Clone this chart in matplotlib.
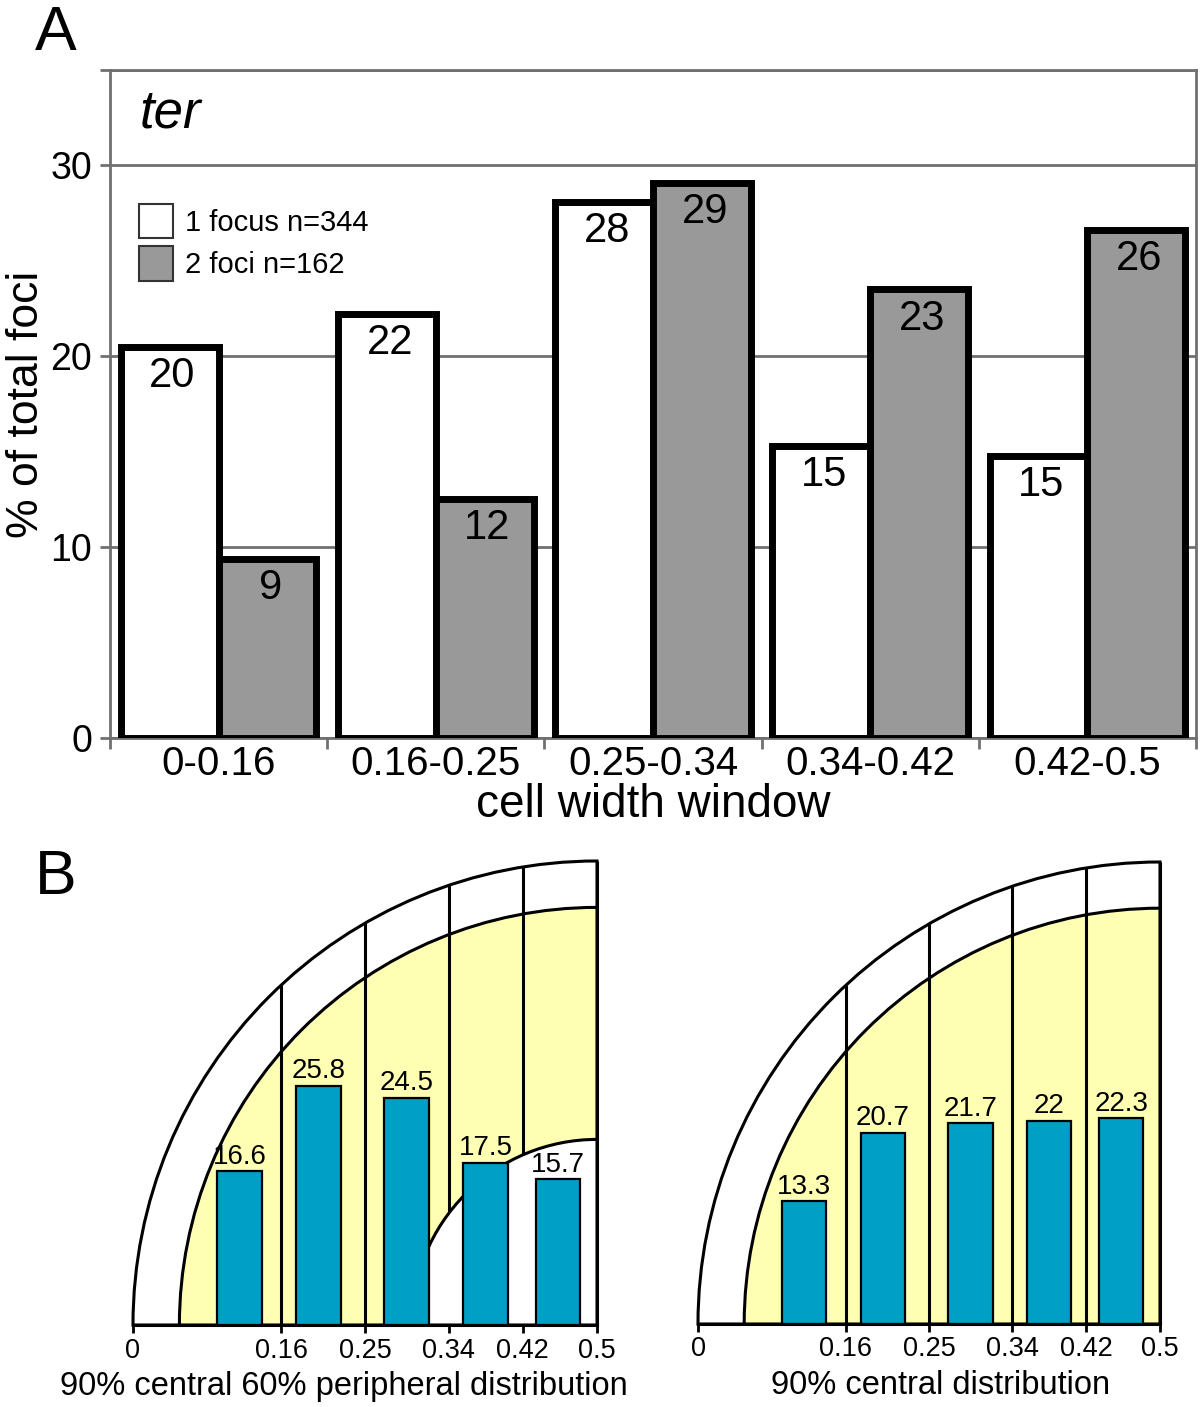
import numpy as np
import matplotlib

matplotlib.use("Agg")
import matplotlib.pyplot as plt
from matplotlib.patches import Patch, Wedge

plt.rcParams["font.family"] = ["Liberation Sans", "DejaVu Sans"]

# ---- Panel A data ------------------------------------------------------ #
windows = ["0-0.16", "0.16-0.25", "0.25-0.34", "0.34-0.42", "0.42-0.5"]
one_focus = [20.5, 22.2, 28.1, 15.3, 14.8]
two_foci = [9.4, 12.5, 29.1, 23.5, 26.6]
one_focus_labels = ["20", "22", "28", "15", "15"]
two_foci_labels = ["9", "12", "29", "23", "26"]
legend_labels = ["1 focus n=344", "2 foci n=162"]

# ---- Panel B data ------------------------------------------------------ #
edges = [0, 0.16, 0.25, 0.34, 0.42, 0.5]
edge_labels = ["0", "0.16", "0.25", "0.34", "0.42", "0.5"]
bar_x = [0.115, 0.2, 0.295, 0.38, 0.458]
peripheral = [16.6, 25.8, 24.5, 17.5, 15.7]
central = [13.3, 20.7, 21.7, 22, 22.3]

GREY = "#707070"
BAR_GREY = "#999999"
TEAL = "#00a0c6"
YELLOW = "#ffffb4"

W, H = 1200, 1407
fig = plt.figure(figsize=(W / 100, H / 100), dpi=100)


def px_axes(x0, x1, y0, y1):
    """Axes from pixel box (top-left origin)."""
    return fig.add_axes([x0 / W, 1 - y1 / H, (x1 - x0) / W, (y1 - y0) / H])


# ---------------------------------------------------------------- A ---- #
ax = px_axes(110, 1196, 70, 738)
x = np.arange(len(windows))
bw = 0.45
ax.bar(x - bw / 2, one_focus, bw, color="white", edgecolor="black", linewidth=5, zorder=3)
ax.bar(x + bw / 2, two_foci, bw, color=BAR_GREY, edgecolor="black", linewidth=5, zorder=3)
for xi, v, lab in zip(x - bw / 2, one_focus, one_focus_labels):
    ax.annotate(lab, (xi, v), xytext=(2, -6.5), textcoords="offset points",
                ha="center", va="top", fontsize=30, zorder=4)
for xi, v, lab in zip(x + bw / 2, two_foci, two_foci_labels):
    ax.annotate(lab, (xi, v), xytext=(2, -6.5), textcoords="offset points",
                ha="center", va="top", fontsize=30, zorder=4)

ax.set_xlim(-0.5, len(windows) - 0.5)
ax.set_ylim(0, 35)
ax.set_yticks([0, 10, 20, 30, 35])
ax.set_yticklabels(["0", "10", "20", "30", ""])
ax.set_xticks(x)
ax.set_xticklabels(windows)
ax.set_xticks(np.arange(-0.5, len(windows)), minor=True)
ax.tick_params(axis="x", which="major", length=0, pad=5, labelsize=29)
ax.tick_params(axis="x", which="minor", length=8, width=2, color=GREY)
ax.tick_params(axis="y", length=7, width=2, color=GREY, pad=6, labelsize=27)
ax.yaxis.grid(True, color=GREY, linewidth=2)
ax.set_axisbelow(True)
for s in ax.spines.values():
    s.set_color(GREY)
    s.set_linewidth(2)
ax.set_xlabel("cell width window", fontsize=33, labelpad=0)
ax.set_ylabel("% of total foci", fontsize=32)
ax.yaxis.set_label_coords(-0.058, 0.5)
ax.text(0.027, 0.935, "ter", transform=ax.transAxes, fontsize=38,
        style="italic", ha="left", va="center")
handles = [Patch(facecolor="white", edgecolor="#333333", linewidth=1.5),
           Patch(facecolor=BAR_GREY, edgecolor="#333333", linewidth=1.5)]
ax.legend(handles, legend_labels, loc="upper left", bbox_to_anchor=(0.027, 0.8),
          frameon=False, fontsize=21, handlelength=1.16, handleheight=1.45,
          labelspacing=0.28, handletextpad=0.4, borderaxespad=0, borderpad=0)

fig.text(35 / W, 1 - 33 / H, "A", fontsize=45, ha="left", va="center")
fig.text(35 / W, 1 - 878 / H, "B", fontsize=45, ha="left", va="center")


# ---------------------------------------------------------------- B ---- #
def cell_panel(ax, values, title, label_x, inner_radius=None):
    R, r_yel = 0.5, 0.45
    centre = (0.5, 0)
    ax.add_patch(Wedge(centre, R, 90, 180, facecolor="white", edgecolor="black",
                       linewidth=2.2, zorder=1, clip_on=False))
    ax.add_patch(Wedge(centre, r_yel, 90, 180, facecolor=YELLOW, edgecolor="black",
                       linewidth=2.2, zorder=2, clip_on=False))
    for e in edges[1:]:
        top = np.sqrt(R ** 2 - (centre[0] - e) ** 2)
        ax.plot([e, e], [0, top], color="black", linewidth=2.2, zorder=3,
                clip_on=False, solid_capstyle="butt")
    if inner_radius is not None:
        ax.add_patch(Wedge(centre, inner_radius, 90, 180, facecolor="white",
                           edgecolor="black", linewidth=2.2, zorder=4, clip_on=False))
    heights = np.array(values) / 100.0
    ax.bar(bar_x, heights, width=0.048, color=TEAL, edgecolor="black",
           linewidth=1.6, zorder=5, clip_on=False)
    for xi, h, v in zip(bar_x, heights, values):
        ax.annotate(f"{v:g}", (xi, h), xytext=(0, 1), textcoords="offset points",
                    ha="center", va="bottom", fontsize=20, zorder=6)
    ax.set_xlim(0, 0.5)
    ax.set_ylim(0, 0.5)
    ax.set_aspect("equal")
    for side in ("left", "top", "right"):
        ax.spines[side].set_visible(False)
    ax.spines["bottom"].set_linewidth(2.2)
    ax.spines["bottom"].set_zorder(7)
    ax.set_yticks([])
    ax.set_xticks(edges)
    ax.set_xticklabels(edge_labels)
    ax.tick_params(axis="x", length=6, width=2, pad=3, labelsize=19.5)
    ax.set_xlabel(title, fontsize=23.5)
    ax.xaxis.set_label_coords(label_x, -0.1)
    ax.patch.set_visible(False)


axl = px_axes(133, 597, 861, 1325)
cell_panel(axl, peripheral, "90% central 60% peripheral distribution", 0.455,
           inner_radius=0.2)
axr = px_axes(698, 1160, 861, 1325)
cell_panel(axr, central, "90% central distribution", 0.525)

fig.savefig("out.png", dpi=100)
